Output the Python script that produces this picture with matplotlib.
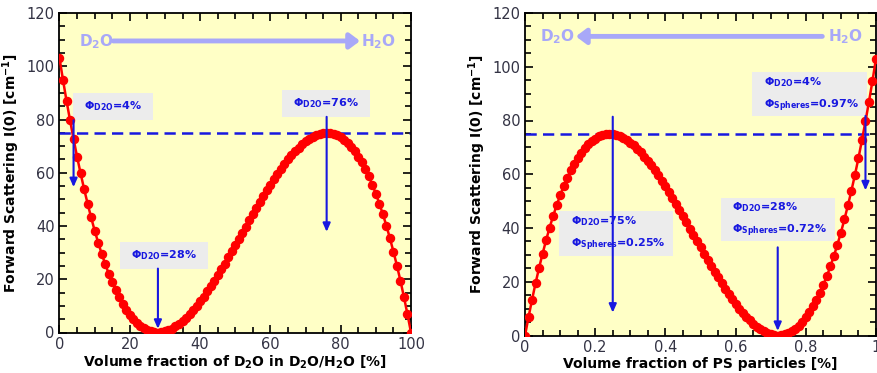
import numpy as np
import matplotlib
matplotlib.use("Agg")
import matplotlib.pyplot as plt
from matplotlib.patches import Rectangle

# ---------------- data ----------------
d2o_fraction = np.arange(0, 101, 1)  # % D2O, one marker per percent
intensity_d2o = [
    103.0, 94.8, 87.0, 79.7, 72.7, 66.0, 59.8, 53.9, 48.4, 43.2,
    38.3, 33.8, 29.6, 25.7, 22.1, 18.9, 15.9, 13.2, 10.8, 8.6,
    6.7, 5.1, 3.7, 2.5, 1.6, 0.9, 0.4, 0.1, 0.0, 0.1,
    0.4, 0.8, 1.5, 2.3, 3.2, 4.3, 5.6, 6.9, 8.4, 10.0,
    11.7, 13.5, 15.4, 17.4, 19.4, 21.6, 23.7, 25.9, 28.2, 30.5,
    32.8, 35.1, 37.5, 39.8, 42.2, 44.5, 46.8, 49.0, 51.3, 53.4,
    55.5, 57.6, 59.6, 61.5, 63.3, 65.0, 66.6, 68.1, 69.4, 70.7,
    71.8, 72.7, 73.5, 74.1, 74.6, 74.9, 75.0, 74.9, 74.6, 74.1,
    73.3, 72.4, 71.2, 69.7, 68.0, 66.1, 63.9, 61.4, 58.6, 55.5,
    52.1, 48.4, 44.4, 40.1, 35.4, 30.4, 25.1, 19.4, 13.3, 6.8,
    0.0,
]

ps_fraction = np.arange(0, 101, 1) / 100.0  # PS particle volume fraction
intensity_ps = [
    0.0, 6.8, 13.3, 19.4, 25.1, 30.4, 35.4, 40.1, 44.4, 48.4,
    52.1, 55.5, 58.6, 61.4, 63.9, 66.1, 68.0, 69.7, 71.2, 72.4,
    73.3, 74.1, 74.6, 74.9, 75.0, 74.9, 74.6, 74.1, 73.5, 72.7,
    71.8, 70.7, 69.4, 68.1, 66.6, 65.0, 63.3, 61.5, 59.6, 57.6,
    55.5, 53.4, 51.3, 49.0, 46.8, 44.5, 42.2, 39.8, 37.5, 35.1,
    32.8, 30.5, 28.2, 25.9, 23.7, 21.6, 19.4, 17.4, 15.4, 13.5,
    11.7, 10.0, 8.4, 6.9, 5.6, 4.3, 3.2, 2.3, 1.5, 0.8,
    0.4, 0.1, 0.0, 0.1, 0.4, 0.9, 1.6, 2.5, 3.7, 5.1,
    6.7, 8.6, 10.8, 13.2, 15.9, 18.9, 22.1, 25.7, 29.6, 33.8,
    38.3, 43.2, 48.4, 53.9, 59.8, 66.0, 72.7, 79.7, 87.0, 94.8,
    103.0,
]

match_level = 75.0

left_marks = [4, 76, 28]
left_labels = ["Φ$_{\\mathbf{D2O}}$=4%", "Φ$_{\\mathbf{D2O}}$=76%", "Φ$_{\\mathbf{D2O}}$=28%"]

right_marks = [0.97, 0.25, 0.72]
right_labels = [
    "Φ$_{\\mathbf{D2O}}$=4%\nΦ$_{\\mathbf{Spheres}}$=0.97%",
    "Φ$_{\\mathbf{D2O}}$=75%\nΦ$_{\\mathbf{Spheres}}$=0.25%",
    "Φ$_{\\mathbf{D2O}}$=28%\nΦ$_{\\mathbf{Spheres}}$=0.72%",
]

# ---------------- style ----------------
W, H = 878, 373
fig = plt.figure(figsize=(W / 100, H / 100), dpi=100)
plt.rcParams['mathtext.default'] = 'bf'

BG = "#FFFFC6"
RED = "#FF0000"
BLUE = "#1818E0"
LAV = "#A8A8F8"
BOXC = "#ECECEC"
TICKC = "#333344"


def px_axes(x0, x1, ytop, ybot):
    return fig.add_axes([x0 / W, (H - ybot) / H, (x1 - x0) / W, (ybot - ytop) / H])


axL = px_axes(59.5, 411, 13, 332.5)
axR = px_axes(525, 876, 13, 335.5)


def style(ax, xmaj, xmin, xlim):
    ax.set_facecolor(BG)
    ax.set_xlim(*xlim)
    ax.set_ylim(0, 120)
    ax.set_yticks(np.arange(0, 121, 20))
    ax.set_yticks(np.arange(0, 121, 5), minor=True)
    ax.set_xticks(np.arange(xlim[0], xlim[1] + 1e-9, xmaj))
    ax.set_xticks(np.arange(xlim[0], xlim[1] + 1e-9, xmin), minor=True)
    ax.tick_params(which='both', direction='in', top=True, right=True,
                   labelsize=10.5, labelcolor=TICKC, width=1.2)
    ax.tick_params(which='major', length=6)
    ax.tick_params(which='minor', length=4)
    for s in ax.spines.values():
        s.set_linewidth(1.3)
        s.set_color('black')
    ax.set_ylabel("Forward Scattering I(0) [cm$^{\\mathbf{-1}}$]",
                  fontsize=10, fontweight='bold', labelpad=3)


style(axL, 20, 5, (0, 100))
style(axR, 0.2, 0.05, (0, 1))
axL.set_xticks([0, 20, 40, 60, 80, 100])
axL.set_xticklabels(["0", "20", "40", "60", "80", "100"])
axR.set_xticks([0, 0.2, 0.4, 0.6, 0.8, 1.0])
axR.set_xticklabels(["0", "0.2", "0.4", "0.6", "0.8", "1"])

axL.set_xlabel("Volume fraction of D$_{\\mathbf{2}}$O in D$_{\\mathbf{2}}$O/H$_{\\mathbf{2}}$O [%]",
               fontsize=10, fontweight='bold', labelpad=1)
axR.set_xlabel("Volume fraction of PS particles [%]",
               fontsize=10, fontweight='bold', labelpad=1)

for ax, x, y in [(axL, d2o_fraction, intensity_d2o), (axR, ps_fraction, intensity_ps)]:
    ax.axhline(match_level, color=BLUE, lw=1.8, ls=(0, (4.5, 2.5)), zorder=2)
    ax.plot(x, y, color=RED, lw=1.8, marker='o', ms=5.8, mec=RED, mfc=RED, zorder=4,
            clip_on=True)


def box(ax, x0, x1, y0, y1):
    ax.add_patch(Rectangle((x0, y0), x1 - x0, y1 - y0, facecolor=BOXC,
                           edgecolor='none', zorder=3))


def arrow(ax, x, y0, y1):
    ax.annotate("", xy=(x, y1), xytext=(x, y0),
                arrowprops=dict(arrowstyle='-|>,head_length=0.5,head_width=0.22',
                                color=BLUE, lw=1.5, shrinkA=0, shrinkB=0), zorder=5)


tk = dict(color=BLUE, fontsize=8, fontweight='bold', ha='center', va='center', zorder=6)

# left panel annotations
box(axL, 3.9, 26.5, 80.0, 90.0)
axL.text(15.2, 85.1, left_labels[0], **tk)
arrow(axL, left_marks[0], 79.7, 54.6)

box(axL, 63.3, 88.3, 81.0, 91.0)
axL.text(75.8, 86.2, left_labels[1], **tk)
arrow(axL, left_marks[1], 81.0, 37.8)

box(axL, 17.2, 42.2, 24.0, 34.0)
axL.text(29.7, 29.1, left_labels[2], **tk)
arrow(axL, left_marks[2], 24.0, 1.4)

# right panel annotations
tk2 = dict(tk, ha='left', linespacing=1.75)
box(axR, 0.648, 0.975, 81.5, 98.0)
axR.text(0.68, 89.6, right_labels[0], **tk2)
arrow(axR, right_marks[0], 81.7, 54.0)

box(axR, 0.098, 0.422, 29.5, 46.3)
axR.text(0.13, 37.9, right_labels[1], **tk2)
arrow(axR, right_marks[1], 81.4, 8.5)

box(axR, 0.558, 0.883, 35.0, 51.3)
axR.text(0.59, 43.1, right_labels[2], **tk2)
arrow(axR, right_marks[2], 32.8, 1.7)

# direction arrows D2O <-> H2O
tl = dict(color=LAV, fontsize=11, fontweight='bold', va='center', zorder=6)
axL.text(10.4, 109.3, "D$_{\\mathbf{2}}$O", ha='center', **tl)
axL.text(90.9, 109.3, "H$_{\\mathbf{2}}$O", ha='center', **tl)
axL.annotate("", xy=(85.5, 109.5), xytext=(15.3, 109.5),
             arrowprops=dict(arrowstyle='-|>,head_length=0.6,head_width=0.45',
                             color=LAV, lw=3.5, shrinkA=0, shrinkB=0))

axR.text(0.093, 111.2, "D$_{\\mathbf{2}}$O", ha='center', **tl)
axR.text(0.914, 111.2, "H$_{\\mathbf{2}}$O", ha='center', **tl)
axR.annotate("", xy=(0.145, 111.3), xytext=(0.847, 111.3),
             arrowprops=dict(arrowstyle='-|>,head_length=0.6,head_width=0.45',
                             color=LAV, lw=3.5, shrinkA=0, shrinkB=0))

fig.savefig("out.png", dpi=100)
